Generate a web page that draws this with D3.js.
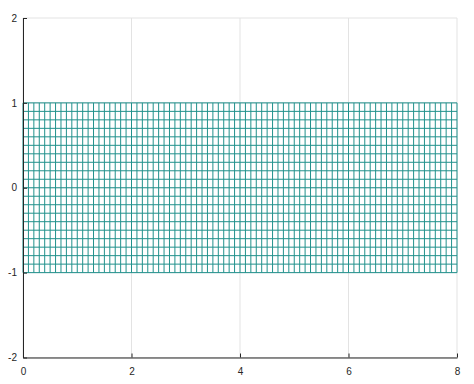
<!DOCTYPE html>
<html lang="en">
<head>
<meta charset="UTF-8">
<title>Mesh</title>
<script src="https://d3js.org/d3.v7.min.js"></script>
<style>
    body { margin: 0; background: #fff; }
    svg { display: block; }
    .tick text { font-family: "Liberation Sans", Arial, sans-serif; font-size: 10px; fill: #262626; }
</style>
</head>
<body>
<svg width="474" height="384"></svg>
<script>
    // axis ticks
    const xTicks = [0, 2, 4, 6, 8];
    const yTicks = [-2, -1, 0, 1, 2];

    // mesh grid coordinates
    const meshX = [0, 0.1, 0.2, 0.3, 0.4, 0.5, 0.6, 0.7, 0.8, 0.9,
        1, 1.1, 1.2, 1.3, 1.4, 1.5, 1.6, 1.7, 1.8, 1.9,
        2, 2.1, 2.2, 2.3, 2.4, 2.5, 2.6, 2.7, 2.8, 2.9,
        3, 3.1, 3.2, 3.3, 3.4, 3.5, 3.6, 3.7, 3.8, 3.9,
        4, 4.1, 4.2, 4.3, 4.4, 4.5, 4.6, 4.7, 4.8, 4.9,
        5, 5.1, 5.2, 5.3, 5.4, 5.5, 5.6, 5.7, 5.8, 5.9,
        6, 6.1, 6.2, 6.3, 6.4, 6.5, 6.6, 6.7, 6.8, 6.9,
        7, 7.1, 7.2, 7.3, 7.4, 7.5, 7.6, 7.7, 7.8, 7.9, 8];
    const meshY = [-1, -0.9, -0.8, -0.7, -0.6, -0.5, -0.4, -0.3, -0.2, -0.1,
        0, 0.1, 0.2, 0.3, 0.4, 0.5, 0.6, 0.7, 0.8, 0.9, 1];

    const svg = d3.select("svg");
    const margin = {top: 18, right: 17, bottom: 26.5, left: 23};
    const width = 474 - margin.left - margin.right;
    const height = 384 - margin.top - margin.bottom;
    const g = svg.append("g").attr("transform", `translate(${margin.left},${margin.top})`);

    const x = d3.scaleLinear().domain([0, 8]).range([0, width]);
    const y = d3.scaleLinear().domain([-2, 2]).range([height, 0]);

    // grid lines
    g.append("g").selectAll("line").data(xTicks).enter().append("line")
        .attr("x1", d => x(d)).attr("x2", d => x(d))
        .attr("y1", 0).attr("y2", height)
        .attr("stroke", "#e3e3e3").attr("stroke-width", 1);
    g.append("g").selectAll("line").data(yTicks).enter().append("line")
        .attr("x1", 0).attr("x2", width)
        .attr("y1", d => y(d)).attr("y2", d => y(d))
        .attr("stroke", "#e3e3e3").attr("stroke-width", 1);

    // mesh
    const mesh = g.append("g").attr("stroke", "#21918c").attr("stroke-width", 1);
    mesh.selectAll(".row").data(meshY).enter().append("line")
        .attr("class", "row")
        .attr("x1", x(meshX[0])).attr("x2", x(meshX[meshX.length - 1]))
        .attr("y1", d => y(d)).attr("y2", d => y(d));
    mesh.selectAll(".col").data(meshX).enter().append("line")
        .attr("class", "col")
        .attr("x1", d => x(d)).attr("x2", d => x(d))
        .attr("y1", y(meshY[0])).attr("y2", y(meshY[meshY.length - 1]));

    // axes, ticks pointing inward
    const fmt = d => String(d);
    const xAxis = g.append("g").attr("transform", `translate(0,${height})`)
        .call(d3.axisBottom(x).tickValues(xTicks).tickFormat(fmt).tickSizeInner(-4).tickSizeOuter(0).tickPadding(10));
    const yAxis = g.append("g")
        .call(d3.axisLeft(y).tickValues(yTicks).tickFormat(fmt).tickSizeInner(-4).tickSizeOuter(0).tickPadding(6));
    [xAxis, yAxis].forEach(a => {
        a.select(".domain").attr("stroke", "#262626");
        a.selectAll(".tick line").attr("stroke", "#262626");
    });
</script>
</body>
</html>
